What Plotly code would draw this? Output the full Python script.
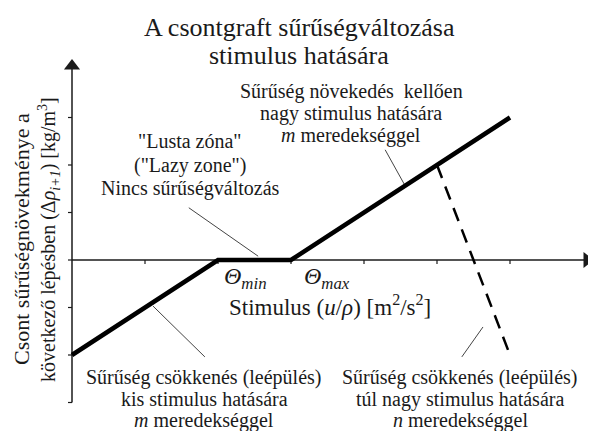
import plotly.graph_objects as go

# bone density change vs. stimulus (schematic, arbitrary units)
stimulus = [0, 2, 3, 6]
density_change = [-2, 0, 0, 3]

# overload branch (dashed)
overload_x = [5, 6]
overload_y = [2, -2]

# axis ticks
x_ticks = [1, 2, 3, 4, 5, 6]
y_ticks = [-3, -2, -1, 0, 1, 2, 3]

# leader lines from labels to the curve
leaders = [
    ([1.6, 2.55], [1.1, 0.08]),
    ([4.29, 4.55], [2.32, 1.6]),
    ([1.11, 1.82], [-0.97, -2.04]),
    ([5.63, 5.34], [-1.41, -2.04]),
]

W, H = 596, 431
PAGE_MARGIN = 8  # default body margin of the html page
X0_PX, X_UNIT = 72, 73.0
Y0_PX, Y_UNIT = 260, 47.5

FONT = "Liberation Serif, Times New Roman, serif"
INK = "#1a1a1a"


def px_x(px):
    return (px - X0_PX) / X_UNIT


def px_y(py):
    return (Y0_PX - py) / Y_UNIT


fig = go.Figure()

# axes drawn by hand (x-axis sits at y=0)
fig.add_trace(go.Scatter(x=[0, px_x(586)], y=[0, 0], mode="lines",
                         line=dict(color=INK, width=1.5), hoverinfo="skip"))
fig.add_trace(go.Scatter(x=[0, 0], y=[-3, px_y(66)], mode="lines",
                         line=dict(color=INK, width=1.5), hoverinfo="skip"))
# arrow heads
fig.add_trace(go.Scatter(x=[px_x(587)], y=[0], mode="markers",
                         marker=dict(symbol="triangle-right", size=14, color=INK),
                         hoverinfo="skip"))
fig.add_trace(go.Scatter(x=[0], y=[px_y(66)], mode="markers",
                         marker=dict(symbol="triangle-up", size=14, color=INK),
                         hoverinfo="skip"))

# tick marks
tx, ty = [], []
for v in x_ticks:
    tx += [v, v, None]
    ty += [0, -4 / Y_UNIT, None]
for v in y_ticks:
    tx += [0, -4 / X_UNIT, None]
    ty += [v, v, None]
fig.add_trace(go.Scatter(x=tx, y=ty, mode="lines",
                         line=dict(color=INK, width=1.2), hoverinfo="skip"))

# leaders
for lx, ly in leaders:
    fig.add_trace(go.Scatter(x=lx, y=ly, mode="lines",
                             line=dict(color="#444444", width=1), hoverinfo="skip"))

# main curve
fig.add_trace(go.Scatter(x=stimulus, y=density_change, mode="lines",
                         line=dict(color="black", width=4.5), hoverinfo="skip"))
fig.add_trace(go.Scatter(x=overload_x, y=overload_y, mode="lines",
                         line=dict(color="black", width=2.5, dash="14px,9px"),
                         hoverinfo="skip"))


def label(text, px, py, size=20, **kw):
    fig.add_annotation(x=px_x(px), y=px_y(py), text=text, showarrow=False,
                       xanchor="center", yanchor="middle", align="center",
                       font=dict(family=FONT, size=size, color=INK), **kw)


def block(lines, px, pys, size=20):
    for t, py in zip(lines, pys):
        label(t, px, py, size=size)


block(["A csontgraft sűrűségváltozása", "stimulus hatására"], 299, [27, 55], size=26)
block(["Sűrűség növekedés  kellően", "nagy stimulus hatására",
       "<i>m</i> meredekséggel"], 351, [91, 113, 135])
block(["\"Lusta zóna\"", "(\"Lazy zone\")", "Nincs sűrűségváltozás"],
      190, [141, 165, 188])
label("<i>Θ<sub>min</sub></i>", 245, 278, size=24)
label("<i>Θ<sub>max</sub></i>", 327, 278, size=24)
label("Stimulus (<i>u</i>/<i>ρ</i>) [m<sup>2</sup>/s<sup>2</sup>]", 330, 305, size=23)
block(["Sűrűség csökkenés (leépülés)", "kis stimulus hatására",
       "<i>m</i> meredekséggel"], 204, [377, 399, 420])
block(["Sűrűség csökkenés (leépülés)", "túl nagy stimulus hatására",
       "<i>n</i> meredekséggel"], 460, [377, 399, 420])
label("Csont sűrűségnövekménye a", 21, 239, size=22, textangle=-90)
label("következő lépésben (Δ<i>ρ<sub>i+1</sub></i>) [kg/m<sup>3</sup>]", 49, 240,
      size=20, textangle=-90)

fig.update_layout(
    width=W, height=H,
    margin=dict(l=0, r=0, t=0, b=0),
    paper_bgcolor="white", plot_bgcolor="white",
    showlegend=False,
    xaxis=dict(range=[px_x(PAGE_MARGIN), px_x(PAGE_MARGIN + W)],
               visible=False, fixedrange=True),
    yaxis=dict(range=[px_y(PAGE_MARGIN + H), px_y(PAGE_MARGIN)],
               visible=False, fixedrange=True),
)

fig.write_html("out.html", config={"displayModeBar": False})
